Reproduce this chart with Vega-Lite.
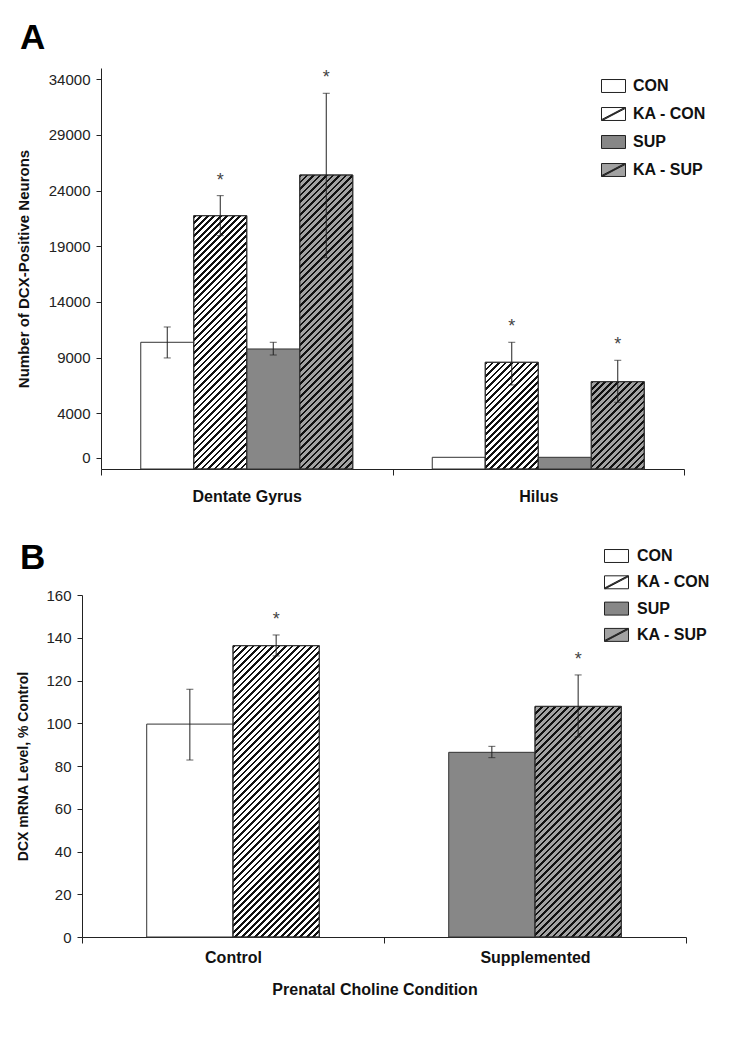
{
  "$schema": "https://vega.github.io/schema/vega-lite/v6.json",
  "background": "white",
  "padding": {"left": 16, "top": 21, "right": 5, "bottom": 5},
  "spacing": 36,
  "params": [
    {"name": "hatch", "value": [
      {"offset":0,"color":"#111"},{"offset":0.0064,"color":"#111"},{"offset":0.0064,"color":"transparent"},{"offset":0.016,"color":"transparent"},
      {"offset":0.016,"color":"#111"},{"offset":0.0224,"color":"#111"},{"offset":0.0224,"color":"transparent"},{"offset":0.032,"color":"transparent"},
      {"offset":0.032,"color":"#111"},{"offset":0.0384,"color":"#111"},{"offset":0.0384,"color":"transparent"},{"offset":0.048,"color":"transparent"},
      {"offset":0.048,"color":"#111"},{"offset":0.0544,"color":"#111"},{"offset":0.0544,"color":"transparent"},{"offset":0.064,"color":"transparent"},
      {"offset":0.064,"color":"#111"},{"offset":0.0704,"color":"#111"},{"offset":0.0704,"color":"transparent"},{"offset":0.08,"color":"transparent"},
      {"offset":0.08,"color":"#111"},{"offset":0.0864,"color":"#111"},{"offset":0.0864,"color":"transparent"},{"offset":0.096,"color":"transparent"},
      {"offset":0.096,"color":"#111"},{"offset":0.1024,"color":"#111"},{"offset":0.1024,"color":"transparent"},{"offset":0.112,"color":"transparent"},
      {"offset":0.112,"color":"#111"},{"offset":0.1184,"color":"#111"},{"offset":0.1184,"color":"transparent"},{"offset":0.128,"color":"transparent"},
      {"offset":0.128,"color":"#111"},{"offset":0.1344,"color":"#111"},{"offset":0.1344,"color":"transparent"},{"offset":0.144,"color":"transparent"},
      {"offset":0.144,"color":"#111"},{"offset":0.1504,"color":"#111"},{"offset":0.1504,"color":"transparent"},{"offset":0.16,"color":"transparent"},
      {"offset":0.16,"color":"#111"},{"offset":0.1664,"color":"#111"},{"offset":0.1664,"color":"transparent"},{"offset":0.176,"color":"transparent"},
      {"offset":0.176,"color":"#111"},{"offset":0.1824,"color":"#111"},{"offset":0.1824,"color":"transparent"},{"offset":0.192,"color":"transparent"},
      {"offset":0.192,"color":"#111"},{"offset":0.1984,"color":"#111"},{"offset":0.1984,"color":"transparent"},{"offset":0.208,"color":"transparent"},
      {"offset":0.208,"color":"#111"},{"offset":0.2144,"color":"#111"},{"offset":0.2144,"color":"transparent"},{"offset":0.224,"color":"transparent"},
      {"offset":0.224,"color":"#111"},{"offset":0.2304,"color":"#111"},{"offset":0.2304,"color":"transparent"},{"offset":0.24,"color":"transparent"},
      {"offset":0.24,"color":"#111"},{"offset":0.2464,"color":"#111"},{"offset":0.2464,"color":"transparent"},{"offset":0.256,"color":"transparent"},
      {"offset":0.256,"color":"#111"},{"offset":0.2624,"color":"#111"},{"offset":0.2624,"color":"transparent"},{"offset":0.272,"color":"transparent"},
      {"offset":0.272,"color":"#111"},{"offset":0.2784,"color":"#111"},{"offset":0.2784,"color":"transparent"},{"offset":0.288,"color":"transparent"},
      {"offset":0.288,"color":"#111"},{"offset":0.2944,"color":"#111"},{"offset":0.2944,"color":"transparent"},{"offset":0.304,"color":"transparent"},
      {"offset":0.304,"color":"#111"},{"offset":0.3104,"color":"#111"},{"offset":0.3104,"color":"transparent"},{"offset":0.32,"color":"transparent"},
      {"offset":0.32,"color":"#111"},{"offset":0.3264,"color":"#111"},{"offset":0.3264,"color":"transparent"},{"offset":0.336,"color":"transparent"},
      {"offset":0.336,"color":"#111"},{"offset":0.3424,"color":"#111"},{"offset":0.3424,"color":"transparent"},{"offset":0.352,"color":"transparent"},
      {"offset":0.352,"color":"#111"},{"offset":0.3584,"color":"#111"},{"offset":0.3584,"color":"transparent"},{"offset":0.368,"color":"transparent"},
      {"offset":0.368,"color":"#111"},{"offset":0.3744,"color":"#111"},{"offset":0.3744,"color":"transparent"},{"offset":0.384,"color":"transparent"},
      {"offset":0.384,"color":"#111"},{"offset":0.3904,"color":"#111"},{"offset":0.3904,"color":"transparent"},{"offset":0.4,"color":"transparent"},
      {"offset":0.4,"color":"#111"},{"offset":0.4064,"color":"#111"},{"offset":0.4064,"color":"transparent"},{"offset":0.416,"color":"transparent"},
      {"offset":0.416,"color":"#111"},{"offset":0.4224,"color":"#111"},{"offset":0.4224,"color":"transparent"},{"offset":0.432,"color":"transparent"},
      {"offset":0.432,"color":"#111"},{"offset":0.4384,"color":"#111"},{"offset":0.4384,"color":"transparent"},{"offset":0.448,"color":"transparent"},
      {"offset":0.448,"color":"#111"},{"offset":0.4544,"color":"#111"},{"offset":0.4544,"color":"transparent"},{"offset":0.464,"color":"transparent"},
      {"offset":0.464,"color":"#111"},{"offset":0.4704,"color":"#111"},{"offset":0.4704,"color":"transparent"},{"offset":0.48,"color":"transparent"},
      {"offset":0.48,"color":"#111"},{"offset":0.4864,"color":"#111"},{"offset":0.4864,"color":"transparent"},{"offset":0.496,"color":"transparent"},
      {"offset":0.496,"color":"#111"},{"offset":0.5024,"color":"#111"},{"offset":0.5024,"color":"transparent"},{"offset":0.512,"color":"transparent"},
      {"offset":0.512,"color":"#111"},{"offset":0.5184,"color":"#111"},{"offset":0.5184,"color":"transparent"},{"offset":0.528,"color":"transparent"},
      {"offset":0.528,"color":"#111"},{"offset":0.5344,"color":"#111"},{"offset":0.5344,"color":"transparent"},{"offset":0.544,"color":"transparent"},
      {"offset":0.544,"color":"#111"},{"offset":0.5504,"color":"#111"},{"offset":0.5504,"color":"transparent"},{"offset":0.56,"color":"transparent"},
      {"offset":0.56,"color":"#111"},{"offset":0.5664,"color":"#111"},{"offset":0.5664,"color":"transparent"},{"offset":0.576,"color":"transparent"},
      {"offset":0.576,"color":"#111"},{"offset":0.5824,"color":"#111"},{"offset":0.5824,"color":"transparent"},{"offset":0.592,"color":"transparent"},
      {"offset":0.592,"color":"#111"},{"offset":0.5984,"color":"#111"},{"offset":0.5984,"color":"transparent"},{"offset":0.608,"color":"transparent"},
      {"offset":0.608,"color":"#111"},{"offset":0.6144,"color":"#111"},{"offset":0.6144,"color":"transparent"},{"offset":0.624,"color":"transparent"},
      {"offset":0.624,"color":"#111"},{"offset":0.6304,"color":"#111"},{"offset":0.6304,"color":"transparent"},{"offset":0.64,"color":"transparent"},
      {"offset":0.64,"color":"#111"},{"offset":0.6464,"color":"#111"},{"offset":0.6464,"color":"transparent"},{"offset":0.656,"color":"transparent"},
      {"offset":0.656,"color":"#111"},{"offset":0.6624,"color":"#111"},{"offset":0.6624,"color":"transparent"},{"offset":0.672,"color":"transparent"},
      {"offset":0.672,"color":"#111"},{"offset":0.6784,"color":"#111"},{"offset":0.6784,"color":"transparent"},{"offset":0.688,"color":"transparent"},
      {"offset":0.688,"color":"#111"},{"offset":0.6944,"color":"#111"},{"offset":0.6944,"color":"transparent"},{"offset":0.704,"color":"transparent"},
      {"offset":0.704,"color":"#111"},{"offset":0.7104,"color":"#111"},{"offset":0.7104,"color":"transparent"},{"offset":0.72,"color":"transparent"},
      {"offset":0.72,"color":"#111"},{"offset":0.7264,"color":"#111"},{"offset":0.7264,"color":"transparent"},{"offset":0.736,"color":"transparent"},
      {"offset":0.736,"color":"#111"},{"offset":0.7424,"color":"#111"},{"offset":0.7424,"color":"transparent"},{"offset":0.752,"color":"transparent"},
      {"offset":0.752,"color":"#111"},{"offset":0.7584,"color":"#111"},{"offset":0.7584,"color":"transparent"},{"offset":0.768,"color":"transparent"},
      {"offset":0.768,"color":"#111"},{"offset":0.7744,"color":"#111"},{"offset":0.7744,"color":"transparent"},{"offset":0.784,"color":"transparent"},
      {"offset":0.784,"color":"#111"},{"offset":0.7904,"color":"#111"},{"offset":0.7904,"color":"transparent"},{"offset":0.8,"color":"transparent"},
      {"offset":0.8,"color":"#111"},{"offset":0.8064,"color":"#111"},{"offset":0.8064,"color":"transparent"},{"offset":0.816,"color":"transparent"},
      {"offset":0.816,"color":"#111"},{"offset":0.8224,"color":"#111"},{"offset":0.8224,"color":"transparent"},{"offset":0.832,"color":"transparent"},
      {"offset":0.832,"color":"#111"},{"offset":0.8384,"color":"#111"},{"offset":0.8384,"color":"transparent"},{"offset":0.848,"color":"transparent"},
      {"offset":0.848,"color":"#111"},{"offset":0.8544,"color":"#111"},{"offset":0.8544,"color":"transparent"},{"offset":0.864,"color":"transparent"},
      {"offset":0.864,"color":"#111"},{"offset":0.8704,"color":"#111"},{"offset":0.8704,"color":"transparent"},{"offset":0.88,"color":"transparent"},
      {"offset":0.88,"color":"#111"},{"offset":0.8864,"color":"#111"},{"offset":0.8864,"color":"transparent"},{"offset":0.896,"color":"transparent"},
      {"offset":0.896,"color":"#111"},{"offset":0.9024,"color":"#111"},{"offset":0.9024,"color":"transparent"},{"offset":0.912,"color":"transparent"},
      {"offset":0.912,"color":"#111"},{"offset":0.9184,"color":"#111"},{"offset":0.9184,"color":"transparent"},{"offset":0.928,"color":"transparent"},
      {"offset":0.928,"color":"#111"},{"offset":0.9344,"color":"#111"},{"offset":0.9344,"color":"transparent"},{"offset":0.944,"color":"transparent"},
      {"offset":0.944,"color":"#111"},{"offset":0.9504,"color":"#111"},{"offset":0.9504,"color":"transparent"},{"offset":0.96,"color":"transparent"},
      {"offset":0.96,"color":"#111"},{"offset":0.9664,"color":"#111"},{"offset":0.9664,"color":"transparent"},{"offset":0.976,"color":"transparent"},
      {"offset":0.976,"color":"#111"},{"offset":0.9824,"color":"#111"},{"offset":0.9824,"color":"transparent"},{"offset":0.992,"color":"transparent"},
      {"offset":0.992,"color":"#111"},{"offset":0.9984,"color":"#111"},{"offset":0.9984,"color":"transparent"},{"offset":1,"color":"transparent"}
    ]}
  ],
  "resolve": {"scale": {"fill": "independent", "xOffset": "independent"}, "legend": {"fill": "independent"}},
  "vconcat": [
    {
      "width": 602,
      "height": 401,
      "title": {"text": "A", "anchor": "start", "frame": "group", "font": "Liberation Sans", "fontSize": 35, "fontWeight": "bold", "color": "#000", "dx": -62, "offset": 12},
      "data": {"values": [
        {"region": "Dentate Gyrus", "grp": "CON", "value": 10375, "lo": 8970, "hi": 11750, "sig": ""},
        {"region": "Dentate Gyrus", "grp": "KA - CON", "value": 21740, "lo": 19950, "hi": 23540, "sig": "*"},
        {"region": "Dentate Gyrus", "grp": "SUP", "value": 9775, "lo": 9235, "hi": 10375, "sig": ""},
        {"region": "Dentate Gyrus", "grp": "KA - SUP", "value": 25395, "lo": 17970, "hi": 32730, "sig": "*"},
        {"region": "Hilus", "grp": "CON", "value": 50, "sig": ""},
        {"region": "Hilus", "grp": "KA - CON", "value": 8580, "lo": 6540, "hi": 10375, "sig": "*"},
        {"region": "Hilus", "grp": "SUP", "value": 50, "sig": ""},
        {"region": "Hilus", "grp": "KA - SUP", "value": 6840, "lo": 4990, "hi": 8760, "sig": "*"}
      ]},
      "encoding": {
        "x": {"field": "region", "type": "nominal", "sort": ["Dentate Gyrus", "Hilus"],
              "scale": {"range": [19, 602], "paddingInner": 0, "paddingOuter": 0},
              "axis": {"title": null, "tickBand": "extent", "labelAngle": 0, "labelFontSize": 16, "labelFontWeight": "bold", "labelColor": "#111", "labelBaseline": "alphabetic", "labelPadding": 26, "tickSize": 6, "domainColor": "#222", "tickColor": "#222"}},
        "xOffset": {"field": "grp", "type": "nominal", "scale": {"domain": ["CON", "KA - CON", "SUP", "KA - SUP"], "paddingInner": 0, "paddingOuter": 0.75}}
      },
      "layer": [
        {
          "mark": {"type": "bar", "stroke": "#333", "strokeWidth": 1},
          "encoding": {
            "y": {"field": "value", "type": "quantitative",
                  "scale": {"domain": [-1000, 35000], "nice": false, "zero": false},
                  "axis": {"title": "Number of DCX-Positive Neurons", "offset": -19, "values": [0, 4000, 9000, 14000, 19000, 24000, 29000, 34000], "format": "d", "labelFontSize": 15, "tickSize": 5, "labelPadding": 6, "titleFontSize": 15, "titleFontWeight": "bold", "titleX": -73, "titleBaseline": "alphabetic", "domainColor": "#222", "tickColor": "#222"}},
            "y2": {"datum": -1000},
            "fill": {"field": "grp", "type": "nominal",
                     "scale": {"domain": ["CON", "KA - CON", "SUP", "KA - SUP"], "range": ["#ffffff", "#ffffff", "#878787", "#a2a2a2"]},
                     "legend": {"title": null, "orient": "none", "legendX": 519, "legendY": 5.5, "labelFontSize": 16, "labelFontWeight": "bold", "labelColor": "#111", "labelOffset": 7, "symbolSize": 576,
                                "symbolType": {"expr": "datum.value == 'KA - CON' || datum.value == 'KA - SUP' ? 'M-1,-0.54H1V0.54H-1Z M-1,0.54L1,-0.54 M-0.93,0.54L1,-0.47 M-1,0.47L0.93,-0.54' : 'M-1,-0.54H1V0.54H-1Z'"},
                                "symbolStrokeColor": "#222", "symbolStrokeWidth": 1, "rowPadding": 7, "padding": 0}}
          }
        },
        {
          "transform": [{"filter": "datum.grp == 'KA - CON' || datum.grp == 'KA - SUP'"}],
          "mark": {"type": "bar", "stroke": "#333", "strokeWidth": 1},
          "encoding": {
            "y": {"field": "value", "type": "quantitative"},
            "y2": {"datum": -1000},
            "fill": {"value": {"expr": "{gradient: 'linear', x1: 0, y1: 0, x2: 21518 / (2809 + pow((datum.value + 1000) * 0.011139, 2)), y2: (datum.value + 1000) * 4.5224 / (2809 + pow((datum.value + 1000) * 0.011139, 2)), stops: hatch}"}}
          }
        },
        {
          "transform": [{"filter": "isValid(datum.lo)"}],
          "mark": {"type": "rule", "color": "#222", "strokeWidth": 1},
          "encoding": {"y": {"field": "lo", "type": "quantitative"}, "y2": {"field": "hi"}}
        },
        {
          "transform": [{"filter": "isValid(datum.lo)"}],
          "mark": {"type": "tick", "orient": "horizontal", "size": 7, "thickness": 1, "color": "#222"},
          "encoding": {"y": {"field": "lo", "type": "quantitative"}}
        },
        {
          "transform": [{"filter": "isValid(datum.hi)"}],
          "mark": {"type": "tick", "orient": "horizontal", "size": 7, "thickness": 1, "color": "#222"},
          "encoding": {"y": {"field": "hi", "type": "quantitative"}}
        },
        {
          "transform": [{"filter": "datum.sig == '*'"}],
          "mark": {"type": "text", "font": "Liberation Sans", "fontSize": 18, "color": "#444", "baseline": "alphabetic", "dy": -10},
          "encoding": {"y": {"field": "hi", "type": "quantitative"}, "text": {"field": "sig"}}
        }
      ]
    },
    {
      "width": 604,
      "height": 342,
      "title": {"text": "B", "anchor": "start", "frame": "group", "font": "Liberation Sans", "fontSize": 35, "fontWeight": "bold", "color": "#000", "dx": -62, "offset": -32},
      "data": {"values": [
        {"cond": "Control", "sub": "a", "grp": "CON", "value": 99.6, "lo": 82.8, "hi": 115.9, "sig": ""},
        {"cond": "Control", "sub": "b", "grp": "KA - CON", "value": 136.3, "lo": 131.5, "hi": 141.3, "sig": "*"},
        {"cond": "Supplemented", "sub": "a", "grp": "SUP", "value": 86.4, "lo": 83.9, "hi": 89.2, "sig": ""},
        {"cond": "Supplemented", "sub": "b", "grp": "KA - SUP", "value": 107.9, "lo": 93.6, "hi": 122.6, "sig": "*"}
      ]},
      "encoding": {
        "x": {"field": "cond", "type": "nominal", "sort": ["Control", "Supplemented"],
              "scale": {"paddingInner": 0, "paddingOuter": 0},
              "axis": {"title": "Prenatal Choline Condition", "titleFontSize": 16, "titleFontWeight": "bold", "titleX": 292.5, "titleY": 57, "titleBaseline": "alphabetic", "tickBand": "extent", "labelAngle": 0, "labelFontSize": 16, "labelFontWeight": "bold", "labelColor": "#111", "labelBaseline": "alphabetic", "labelPadding": 19, "tickSize": 6, "domainColor": "#222", "tickColor": "#222"}},
        "xOffset": {"field": "sub", "type": "nominal", "scale": {"domain": ["a", "b"], "paddingInner": 0, "paddingOuter": 0.75}}
      },
      "layer": [
        {
          "mark": {"type": "bar", "stroke": "#333", "strokeWidth": 1},
          "encoding": {
            "y": {"field": "value", "type": "quantitative",
                  "scale": {"domain": [0, 160], "nice": false},
                  "axis": {"title": "DCX mRNA Level, % Control", "values": [0, 20, 40, 60, 80, 100, 120, 140, 160], "labelFontSize": 15, "tickSize": 5, "labelPadding": 6, "titleFontSize": 14, "titleFontWeight": "bold", "titleX": -55, "titleBaseline": "alphabetic", "domainColor": "#222", "tickColor": "#222"}},
            "y2": {"datum": 0},
            "fill": {"field": "grp", "type": "nominal",
                     "scale": {"domain": ["CON", "KA - CON", "SUP", "KA - SUP"], "range": ["#ffffff", "#ffffff", "#878787", "#a2a2a2"]},
                     "legend": {"title": null, "orient": "none", "legendX": 522, "legendY": -51.5, "labelFontSize": 16, "labelFontWeight": "bold", "labelColor": "#111", "labelOffset": 8, "symbolSize": 576,
                                "symbolType": {"expr": "datum.value == 'KA - CON' || datum.value == 'KA - SUP' ? 'M-1,-0.54H1V0.54H-1Z M-1,0.54L1,-0.54 M-0.93,0.54L1,-0.47 M-1,0.47L0.93,-0.54' : 'M-1,-0.54H1V0.54H-1Z'"},
                                "symbolStrokeColor": "#222", "symbolStrokeWidth": 1, "rowPadding": 5.3, "padding": 0}}
          }
        },
        {
          "transform": [{"filter": "datum.grp == 'KA - CON' || datum.grp == 'KA - SUP'"}],
          "mark": {"type": "bar", "stroke": "#333", "strokeWidth": 1},
          "encoding": {
            "y": {"field": "value", "type": "quantitative"},
            "y2": {"datum": 0},
            "fill": {"value": {"expr": "{gradient: 'linear', x1: 0, y1: 0, x2: 35034 / (7445.2 + pow(datum.value * 2.1375, 2)), y2: datum.value * 867.83 / (7445.2 + pow(datum.value * 2.1375, 2)), stops: hatch}"}}
          }
        },
        {
          "mark": {"type": "rule", "color": "#222", "strokeWidth": 1},
          "encoding": {"y": {"field": "lo", "type": "quantitative"}, "y2": {"field": "hi"}}
        },
        {
          "mark": {"type": "tick", "orient": "horizontal", "size": 7, "thickness": 1, "color": "#222"},
          "encoding": {"y": {"field": "lo", "type": "quantitative"}}
        },
        {
          "mark": {"type": "tick", "orient": "horizontal", "size": 7, "thickness": 1, "color": "#222"},
          "encoding": {"y": {"field": "hi", "type": "quantitative"}}
        },
        {
          "transform": [{"filter": "datum.sig == '*'"}],
          "mark": {"type": "text", "font": "Liberation Sans", "fontSize": 18, "color": "#444", "baseline": "alphabetic", "dy": -10},
          "encoding": {"y": {"field": "hi", "type": "quantitative"}, "text": {"field": "sig"}}
        }
      ]
    }
  ],
  "config": {
    "view": {"stroke": null},
    "axis": {"grid": false, "labelFont": "Liberation Sans", "titleFont": "Liberation Sans", "labelColor": "#222", "titleColor": "#111"},
    "legend": {"labelFont": "Liberation Sans"}
  }
}
